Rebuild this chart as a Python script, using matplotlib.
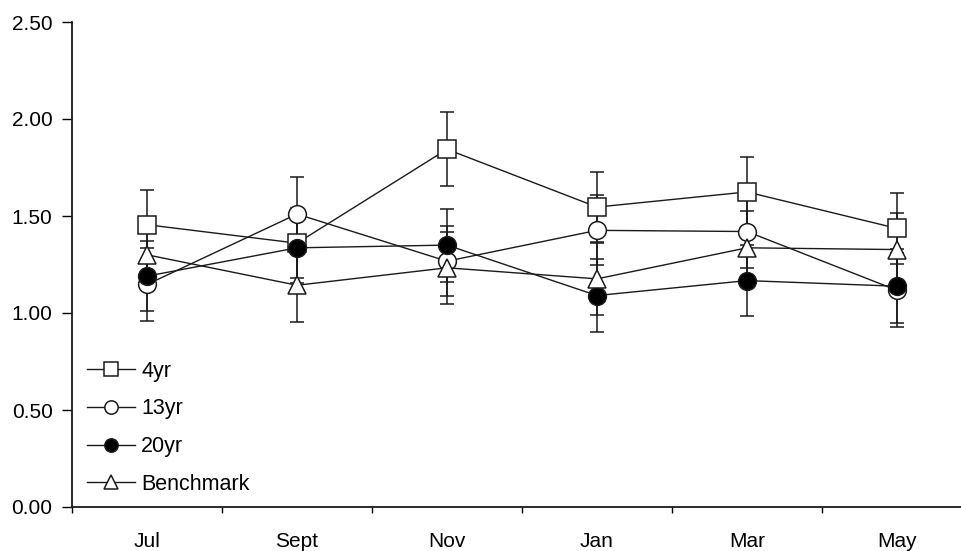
import matplotlib
matplotlib.use("Agg")
import matplotlib.pyplot as plt
import numpy as np

plt.rcParams['font.family'] = ['Liberation Sans', 'DejaVu Sans']

months = ["Jul", "Sept", "Nov", "Jan", "Mar", "May"]
yticks = [0.0, 0.5, 1.0, 1.5, 2.0, 2.5]

labels = ["4yr", "13yr", "20yr", "Benchmark"]
vals_4yr = [1.455, 1.36, 1.844, 1.546, 1.624, 1.436]
vals_13yr = [1.147, 1.51, 1.267, 1.426, 1.42, 1.117]
vals_20yr = [1.19, 1.336, 1.35, 1.09, 1.167, 1.138]
vals_bench = [1.30, 1.143, 1.233, 1.176, 1.336, 1.327]

se_4yr = [0.18, 0.18, 0.19, 0.18, 0.182, 0.185]
se_13yr = [0.19, 0.19, 0.18, 0.18, 0.187, 0.19]
se_20yr = [0.18, 0.18, 0.188, 0.19, 0.183, 0.19]
se_bench = [0.18, 0.19, 0.186, 0.186, 0.19, 0.186]

fig = plt.figure(figsize=(9.62, 5.51), dpi=100)
W, H = 962, 551
ax = fig.add_axes([72 / W, 44 / H, 900 / W, 485 / H])

x = np.arange(len(months))
series = [
    (vals_4yr, se_4yr, 's', 'white'),
    (vals_13yr, se_13yr, 'o', 'white'),
    (vals_20yr, se_20yr, 'o', 'black'),
    (vals_bench, se_bench, '^', 'white'),
]
handles = []
for i, (v, se, m, fc) in enumerate(series):
    ax.errorbar(x, v, yerr=se, fmt='none', ecolor='#1a1a1a', elinewidth=1.1,
                capsize=4.7, capthick=1.1, zorder=2 + i * 0.1)
    h, = ax.plot(x, v, color='#1a1a1a', linewidth=1.0, marker=m,
                 markersize=12.8, markerfacecolor=fc,
                 markeredgecolor='#1a1a1a', markeredgewidth=1.1,
                 zorder=3 + i * 0.1, label=labels[i])
    handles.append(h)

ax.set_xlim(-0.5, 5.5)
ax.set_ylim(0, 2.5)
ax.set_xticks(np.arange(-0.5, 6.0, 1.0), minor=False)
ax.set_xticklabels([])
ax.set_xticks(x, minor=True)
ax.set_xticklabels(months, minor=True)
ax.tick_params(axis='x', which='major', direction='out', length=4, width=1.0)
ax.tick_params(axis='x', which='minor', length=0, pad=18, labelsize=15)
ax.set_yticks(yticks)
ax.set_yticklabels([f"{t:.2f}" for t in yticks])
ax.tick_params(axis='y', direction='out', length=7, width=1.0, pad=7, labelsize=15)

for s in ['top', 'right']:
    ax.spines[s].set_visible(False)
for s in ['left', 'bottom']:
    ax.spines[s].set_linewidth(1.3)
    ax.spines[s].set_color('#1a1a1a')

leg = ax.legend(handles=handles, loc='lower left', bbox_to_anchor=(0.017, 0.025),
                frameon=False, fontsize=15.5, handlelength=2.2, handletextpad=0.3,
                labelspacing=0.78, borderaxespad=0, borderpad=0, markerscale=0.75)

fig.savefig("out.png", dpi=100)
